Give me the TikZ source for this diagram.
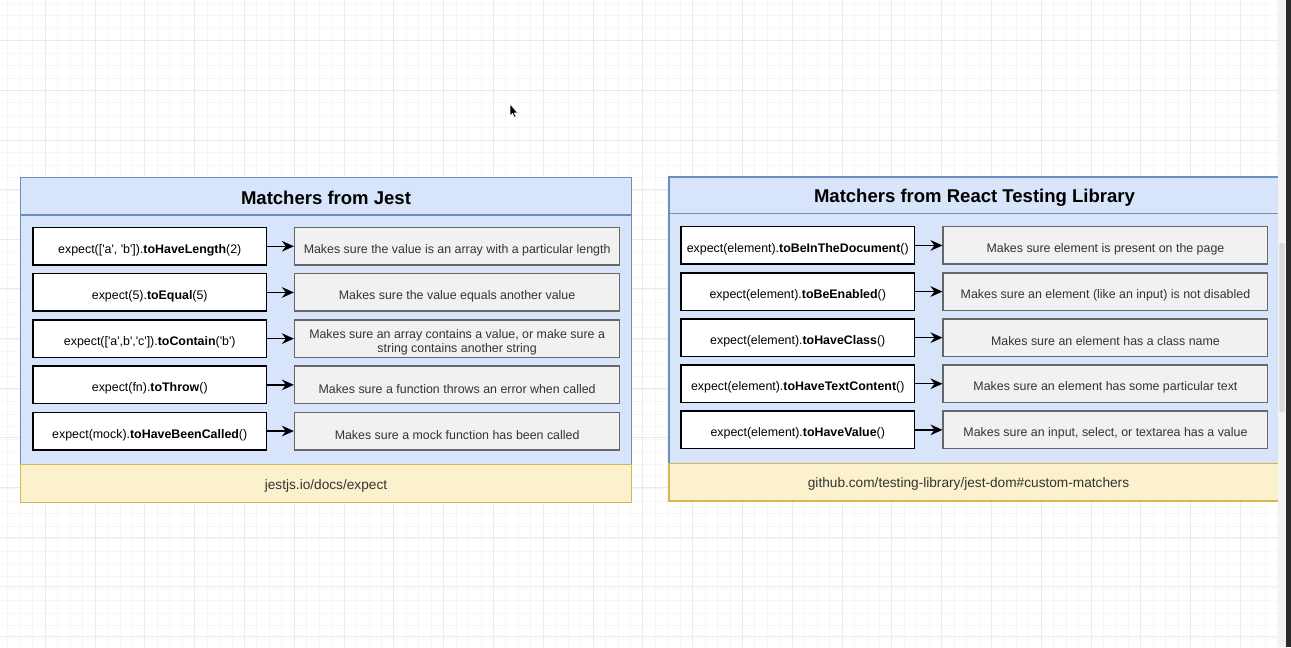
\documentclass[tikz,border=0pt]{standalone}
\usepackage{fontspec}
\setmainfont{Liberation Sans}
\usetikzlibrary{arrows.meta}
\definecolor{panelfill}{HTML}{D7E4F9}
\definecolor{paneldraw}{HTML}{6C8EBF}
\definecolor{footfill}{HTML}{FBF1CC}
\definecolor{footdraw}{HTML}{D6B656}
\definecolor{descfill}{HTML}{F1F1F1}
\definecolor{descdraw}{HTML}{666666}
\definecolor{desctext}{HTML}{333333}
\definecolor{gridminor}{HTML}{F6F6F6}
\definecolor{gridmajor}{HTML}{EAEAEA}
\definecolor{scrollstrip}{HTML}{F3F3F3}
\definecolor{scrollthumb}{HTML}{DADADA}
\definecolor{darkbar}{HTML}{2B2B2B}
\newcommand\sq{\textquotesingle}
\newcommand\dropped[2]{\raisebox{-#1}[\height][\depth]{#2}}
% \boxnode{style}{name}{x1}{y1}{x2}{y2}{text}
\newcommand\boxnode[7]{%
  \node[#1, minimum width={(#5-#3)*0.75pt}, minimum height={(#6-#4)*0.75pt}]
    (#2) at ({(#3+#5)/2},{(#4+#6)/2}) {#7};
}
\newcommand\matcherrow[8]{%
  \boxnode{codebox}{#1c}{#3}{#2}{#4}{#2+37.5}{\dropped{2.8pt}{#7}}
  \boxnode{descbox}{#1d}{#5}{#2}{#6}{#2+37.5}{\dropped{2.8pt}{#8}}
  \draw[link] (#1c) -- (#1d);
}
\begin{document}
\begin{tikzpicture}[x=0.75pt,y=-0.75pt,
  panel/.style={draw=paneldraw, fill=panelfill, line width=0.9pt, inner sep=0pt},
  foot/.style={draw=footdraw, fill=footfill, line width=0.9pt, inner sep=0pt,
    font=\fontsize{10.25}{12}\selectfont, text=desctext},
  title/.style={panel, font=\bfseries\fontsize{13.9}{16}\selectfont},
  codebox/.style={draw=black, fill=white, line width=1.1pt, inner sep=0pt,
    font=\fontsize{9.3}{11}\selectfont},
  descbox/.style={draw=descdraw, fill=descfill, line width=1.1pt, inner sep=0pt,
    font=\fontsize{9.3}{11.25}\selectfont, text=desctext, align=center},
  link/.style={line width=1.1pt, -{Stealth[length=9pt,width=8pt,inset=3pt]}},
  minorline/.style={draw=gridminor, line width=0.75pt},
  majorline/.style={draw=gridmajor, line width=0.75pt},
]
\useasboundingbox (0,0) rectangle (1291,647);
\fill[white] (0,0) rectangle (1291,647);
% grid
\foreach \i in {0,...,103} {\path[minorline] (7.95+\i*12.45,0) -- (7.95+\i*12.45,647);}
\foreach \i in {0,...,51} {\path[minorline] (0,3.35+\i*12.45) -- (1278,3.35+\i*12.45);}
\foreach \i in {-1,...,23} {\path[majorline] (95.1+\i*49.8,0) -- (95.1+\i*49.8,647);}
\foreach \i in {0,...,12} {\path[majorline] (0,40.7+\i*49.65) -- (1278,40.7+\i*49.65);}

% ---- left panel: Jest
\boxnode{panel}{jbody}{20.3}{215}{631.7}{464.3}{}
\boxnode{title}{jtitle}{20.3}{177.7}{631.7}{215}{\dropped{1pt}{Matchers from Jest}}
\boxnode{foot}{jfoot}{20.3}{464.3}{631.7}{502.2}{\dropped{2.2pt}{jestjs.io/docs/expect}}

\matcherrow{ja}{227.5}{33}{266.5}{294.6}{619.6}
  {expect([\sq a\sq, \sq b\sq]).\textbf{toHaveLength}(2)}
  {Makes sure the value is an array with a particular length}
\matcherrow{jb}{273.7}{33}{266.5}{294.6}{619.6}
  {expect(5).\textbf{toEqual}(5)}
  {Makes sure the value equals another value}
\matcherrow{jc}{319.9}{33}{266.5}{294.6}{619.6}
  {expect([\sq a\sq,b\sq,\sq c\sq]).\textbf{toContain}(\sq b\sq)}
  {\begin{tabular}{@{}c@{}}Makes sure an array contains a value, or make sure a\\[-0.6pt]string contains another string\end{tabular}}
\matcherrow{jd}{366.1}{33}{266.5}{294.6}{619.6}
  {expect(fn).\textbf{toThrow}()}
  {Makes sure a function throws an error when called}
\matcherrow{je}{412.3}{33}{266.5}{294.6}{619.6}
  {expect(mock).\textbf{toHaveBeenCalled}()}
  {Makes sure a mock function has been called}

% ---- right panel: React Testing Library
\boxnode{panel}{rbody}{669}{213.7}{1290}{463.3}{}
\boxnode{title}{rtitle}{669}{177}{1290}{213.7}{}
\node[font=\bfseries\fontsize{13.9}{16}\selectfont] (rtitletext) at (974.5,195.4)
  {\dropped{1.6pt}{Matchers from React Testing Library}};
\boxnode{foot}{rfoot}{669}{463.3}{1290}{501}{}
\node[font=\fontsize{10.25}{12}\selectfont, text=desctext] (rfoottext) at (968.5,482.2)
  {\dropped{1.5pt}{github.com/testing-library/jest-dom\#custom-matchers}};

\matcherrow{ra}{226.7}{681}{914.5}{943.2}{1267.7}
  {expect(element).\textbf{toBeInTheDocument}()}
  {Makes sure element is present on the page}
\matcherrow{rb}{272.8}{681}{914.5}{943.2}{1267.7}
  {expect(element).\textbf{toBeEnabled}()}
  {Makes sure an element (like an input) is not disabled}
\matcherrow{rc}{318.9}{681}{914.5}{943.2}{1267.7}
  {expect(element).\textbf{toHaveClass}()}
  {Makes sure an element has a class name}
\matcherrow{rd}{365}{681}{914.5}{943.2}{1267.7}
  {expect(element).\textbf{toHaveTextContent}()}
  {Makes sure an element has some particular text}
\matcherrow{re}{411.1}{681}{914.5}{943.2}{1267.7}
  {expect(element).\textbf{toHaveValue}()}
  {Makes sure an input, select, or textarea has a value}

% ---- window edge: scroll strip and dark bar
\fill[scrollstrip] (1278,0) rectangle (1286,647);
\fill[scrollthumb, rounded corners=1.5pt] (1279.3,243) rectangle (1284.7,412);
\fill[darkbar] (1286,0) rectangle (1291,647);

% ---- mouse pointer
\filldraw[fill=black, draw=white, line width=0.4pt]
  (510,104) -- (510,116) -- (512.6,113.4) -- (514.4,117.4) -- (516,116.7)
  -- (514.2,112.8) -- (517.6,112.8) -- cycle;
\end{tikzpicture}
\end{document}
